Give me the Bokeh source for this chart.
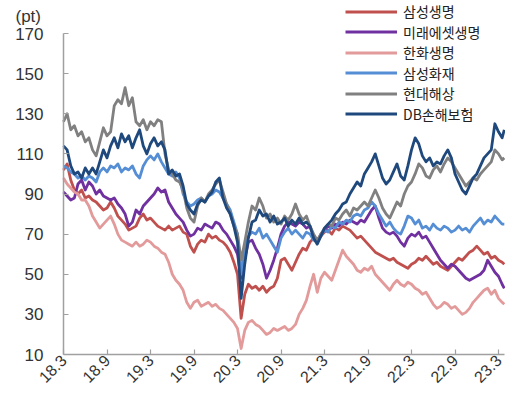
import numpy as np
from bokeh.plotting import figure
from bokeh.models import Range1d, FixedTicker, Label, Legend, LegendItem
from bokeh.embed import file_html
from bokeh.resources import INLINE

months = [i * 0.5 for i in range(122)] + [60.8]
tick_months = [0, 6, 12, 18, 24, 30, 36, 42, 48, 54, 60]
tick_labels = ["18.3", "18.9", "19.3", "19.9", "20.3", "20.9", "21.3", "21.9", "22.3", "22.9", "23.3"]
y_ticks = [10, 30, 50, 70, 90, 110, 130, 150, 170]

names = ["삼성생명", "미래에셋생명", "한화생명", "삼성화재", "현대해상", "DB손해보험"]

samsung_life = [
    102, 105, 97, 92, 90, 92, 88, 89, 87, 86, 84, 82,
    83, 86, 83, 79, 77, 75, 72, 73, 74, 78, 80, 77,
    78, 76, 74, 73, 72, 74, 72, 73, 74, 71, 70, 64,
    61, 65, 67, 66, 70, 68, 69, 67, 66, 64, 61, 56,
    50, 28, 40, 45, 43, 44, 42, 44, 41, 43, 44, 48,
    57, 58, 55, 52, 56, 60, 63, 62, 66, 68, 67, 69,
    71, 72, 70, 73, 72, 74, 73, 72, 70, 68, 69, 67,
    65, 63, 61, 60, 59, 58, 57, 58, 56, 55, 54, 53,
    55, 56, 58, 57, 59, 57, 55, 56, 54, 53, 52, 54,
    56, 58, 57, 59, 61, 62, 64, 62, 60, 61, 58, 59,
    57, 56, 55]

mirae_life = [
    91, 89, 87, 88, 95, 97, 92, 96, 94, 90, 92, 89,
    88, 87, 88, 85, 83, 80, 74, 76, 82, 80, 84, 86,
    88, 90, 93, 91, 92, 86, 83, 80, 78, 76, 72, 69,
    70, 73, 72, 75, 74, 73, 76, 75, 72, 70, 67, 64,
    60, 48, 58, 66, 67, 63, 60, 55, 48, 52, 57, 63,
    70, 74, 76, 75, 74, 76, 75, 73, 74, 69, 66, 70,
    72, 74, 73, 75, 74, 76, 75, 77, 76, 75, 77, 76,
    79, 82, 84, 78, 73, 71, 70, 71, 69, 66, 64, 68,
    70, 69, 71, 68, 69, 66, 63, 60, 57, 55, 53, 55,
    54, 52, 50, 48, 47, 48, 49, 50, 52, 57, 54, 51,
    49, 45, 43]

hanwha_life = [
    98, 95, 93, 91, 90, 87, 87, 84, 79, 76, 73, 75,
    77, 79, 75, 70, 67, 66, 65, 64, 66, 64, 65, 67,
    66, 64, 63, 61, 60, 56, 50, 47, 45, 42, 36, 33,
    36, 37, 34, 35, 36, 34, 35, 33, 32, 30, 28, 26,
    23, 13, 22, 26, 27, 25, 24, 22, 20, 21, 23, 22,
    23, 24, 22, 23, 25, 30, 33, 37, 44, 50, 41, 48,
    51, 49, 47, 52, 57, 62, 59, 57, 55, 52, 51, 53,
    52, 54, 50, 48, 46, 44, 42, 45, 47, 45, 44, 46,
    45, 43, 42, 40, 41, 38, 35, 33, 34, 36, 35, 33,
    34, 32, 30, 31, 33, 36, 38, 40, 42, 43, 40, 42,
    38, 36, 35]

samsung_fire = [
    104, 103, 101, 100, 98, 99, 97, 99, 98, 96, 101, 103,
    101, 104, 103, 105, 101, 103, 102, 104, 100, 98, 104, 107,
    109, 107, 110, 106, 103, 100, 99, 101, 98, 90, 86, 84,
    85, 87, 88, 86, 89, 90, 92, 91, 88, 85, 82, 76,
    70, 50, 62, 69, 71, 70, 73, 68, 70, 67, 64, 61,
    68, 71, 73, 70, 72, 70, 68, 71, 70, 67, 66, 69,
    72, 71, 74, 73, 76, 75, 77, 76, 79, 80, 79, 82,
    83, 86, 84, 80, 77, 74, 76, 73, 71, 70, 74, 79,
    78, 75, 77, 73, 74, 72, 75, 73, 72, 74, 73, 71,
    72, 74, 72, 73, 71, 74, 76, 78, 75, 77, 76, 79,
    77, 75, 75]

hyundai_marine = [
    126, 130, 122, 124, 119, 121, 116, 118, 112, 109, 116, 123,
    119, 121, 134, 137, 135, 143, 134, 138, 126, 124, 127, 122,
    126, 124, 127, 126, 110, 102, 100, 97, 96, 92, 83, 78,
    76, 84, 88, 86, 90, 92, 95, 97, 91, 85, 80, 74,
    70, 57, 66, 76, 84, 82, 88, 84, 78, 80, 76, 78,
    75, 79, 77, 80, 85, 80, 77, 79, 74, 70, 67, 70,
    73, 75, 74, 78, 77, 80, 82, 79, 83, 82, 84, 86,
    84, 88, 92, 88, 83, 80, 78, 82, 86, 84, 90, 94,
    96, 100, 105, 103, 99, 98, 102, 104, 101, 105, 108, 106,
    103, 100, 97, 94, 96, 98, 97, 100, 102, 104, 106, 112,
    110, 107, 108]

db_insurance = [
    114, 112, 104, 100, 101, 98, 103, 100, 103, 100, 106, 112,
    108, 114, 118, 113, 120, 116, 119, 113, 118, 122, 114, 110,
    115, 118, 114, 116, 112, 100, 102, 99, 100, 94, 85, 82,
    80, 85, 87, 86, 89, 91, 96, 98, 88, 83, 80, 74,
    66, 38, 55, 68, 76, 77, 82, 79, 80, 76, 79, 75,
    76, 78, 74, 77, 75, 78, 75, 76, 74, 68, 65, 69,
    73, 75, 77, 80, 82, 85, 86, 90, 93, 96, 94, 100,
    103, 106, 110, 104, 98, 95, 97, 101, 105, 99, 97, 104,
    112, 118, 115, 109, 106, 108, 104, 106, 105, 109, 112, 108,
    100, 96, 92, 90, 94, 98, 100, 104, 108, 110, 112, 125,
    121, 118, 122]

series = [samsung_life, mirae_life, hanwha_life, samsung_fire, hyundai_marine, db_insurance]
colors = ["#C0504D", "#7030A0", "#E39A9A", "#558ED5", "#808080", "#1F497D"]

# the frame covers the whole canvas; both axes are placed inside it
W, H = 505, 391
AX_X, AX_TOP, AX_BOT = 63, 33, 354   # pixel positions of the y axis line, 170 and 10
PX_PER_MONTH = 7.25
PX_PER_UNIT = (AX_BOT - AX_TOP) / (170 - 10)
x0 = -AX_X / PX_PER_MONTH
x1 = (W - AX_X) / PX_PER_MONTH
y1 = 170 + AX_TOP / PX_PER_UNIT
y0 = 10 - (H - AX_BOT) / PX_PER_UNIT

p = figure(frame_width=W, frame_height=H, output_backend="svg", toolbar_location=None,
           x_range=Range1d(x0, x1), y_range=Range1d(y0, y1))
p.min_border = 0
p.outline_line_color = None
p.xgrid.grid_line_color = None
p.ygrid.grid_line_color = None
p.background_fill_color = "white"
p.border_fill_color = "white"

renderers = []
for vals, c in zip(series, colors):
    r = p.line(months, vals, line_color=c, line_width=2.8, line_join="round")
    renderers.append(r)

for ax in (p.xaxis[0], p.yaxis[0]):
    ax.axis_line_color = "#A0A0A0"
    ax.axis_line_width = 1.5
    ax.major_tick_line_color = "#A0A0A0"
    ax.major_tick_line_width = 1.2
    ax.major_tick_in = 5
    ax.major_tick_out = 0
    ax.minor_tick_line_color = None
    ax.major_label_text_font = "Liberation Sans"
    ax.major_label_text_color = "#333333"

p.xaxis.ticker = FixedTicker(ticks=tick_months)
p.xaxis.major_label_overrides = {m: lab for m, lab in zip(tick_months, tick_labels)}
p.xaxis.major_label_orientation = np.pi / 4
p.xaxis.major_label_standoff = 3
p.xaxis.major_label_text_font_size = "16px"
p.xaxis.bounds = (0, 60.8)
p.xaxis.fixed_location = 10

p.yaxis.ticker = FixedTicker(ticks=y_ticks)
p.yaxis.major_label_standoff = 20
p.yaxis.major_label_text_font_size = "17px"
p.yaxis.bounds = (10, 170)
p.yaxis.fixed_location = 0

p.add_layout(Label(x=x0 + 15 / PX_PER_MONTH, y=y0 + (H - 16) / PX_PER_UNIT, text="(pt)",
                   text_font="Liberation Sans", text_font_size="17px", text_color="#333333",
                   text_baseline="middle", text_align="left"))

ROW = 20.5          # spacing between legend rows (px)
ROW_H = 21          # height of one legend row box (px)
for i, (name, r) in enumerate(zip(names, renderers)):
    center = 11 + ROW * i                # pixel row centre from the top
    lg = Legend(items=[LegendItem(label=name, renderers=[r])],
                location=(345, H - center - ROW_H / 2),
                glyph_width=52, glyph_height=ROW_H, label_height=ROW_H,
                label_standoff=6, padding=0, margin=0, spacing=0,
                border_line_alpha=0, background_fill_alpha=0,
                label_text_font="Noto Sans CJK KR", label_text_font_size="14px",
                label_text_color="#222222")
    p.add_layout(lg)

open("out.html", "w").write(file_html(p, INLINE))
